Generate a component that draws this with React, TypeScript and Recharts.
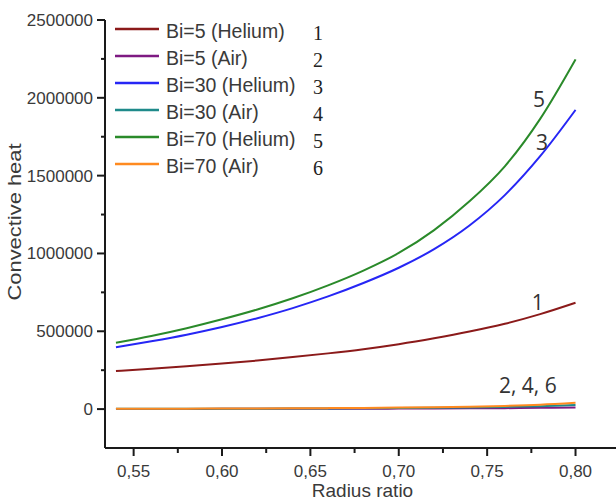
import React from 'react';
import { LineChart, Line, XAxis, YAxis, ReferenceDot, Legend } from 'recharts';

// ---- data ----
const radiusRatio = [0.54, 0.56, 0.58, 0.6, 0.62, 0.64, 0.66, 0.68, 0.7, 0.72, 0.74, 0.76, 0.78, 0.8];
const bi5Helium = [244000, 259000, 276000, 293000, 312000, 334000, 358000, 385000, 417000, 455000, 498000, 548000, 610000, 683000];
const bi5Air = [1000, 1100, 1200, 1400, 1600, 1800, 2100, 2500, 3000, 3700, 4700, 6000, 8000, 11000];
const bi30Helium = [398000, 436000, 478000, 527000, 584000, 649000, 724000, 810000, 908000, 1028000, 1180000, 1375000, 1625000, 1922000];
const bi30Air = [1500, 1700, 2000, 2400, 2900, 3500, 4300, 5300, 6600, 8400, 10800, 14000, 19000, 26000];
const bi70Helium = [426000, 470000, 520000, 577000, 640000, 712000, 795000, 890000, 1003000, 1150000, 1335000, 1560000, 1865000, 2247000];
const bi70Air = [2000, 2400, 2900, 3500, 4200, 5100, 6200, 7600, 9500, 12000, 15500, 20500, 28000, 40000];

const seriesKeys = ['bi5He', 'bi5Air', 'bi30He', 'bi30Air', 'bi70He', 'bi70Air'];
const seriesNames = ['Bi=5 (Helium)', 'Bi=5 (Air)', 'Bi=30 (Helium)', 'Bi=30 (Air)', 'Bi=70 (Helium)', 'Bi=70 (Air)'];
const seriesNumbers = ['1', '2', '3', '4', '5', '6'];
const seriesColors = ['#8B1A1A', '#7E1A82', '#2626F5', '#1F8A8A', '#2A8A2A', '#FF8A20'];

const xMajorTicks = [0.55, 0.6, 0.65, 0.7, 0.75, 0.8];
const xMinorTicks = [0.575, 0.625, 0.675, 0.725, 0.775];
const yMajorTicks = [0, 500000, 1000000, 1500000, 2000000, 2500000];
const yMinorTicks = [250000, 750000, 1250000, 1750000, 2250000];

const annotations = [
  { text: '5', x: 0.7793, y: 1986000 },
  { text: '3', x: 0.781, y: 1716000 },
  { text: '1', x: 0.7787, y: 688000 },
  { text: '2, 4, 6', x: 0.773, y: 154000 },
];

const allSeries = [bi5Helium, bi5Air, bi30Helium, bi30Air, bi70Helium, bi70Air];
const data = radiusRatio.map((r, i) => {
  const row: Record<string, number> = { r };
  seriesKeys.forEach((k, j) => {
    row[k] = allSeries[j][i];
  });
  return row;
});

const SANS = "'Liberation Sans', Arial, sans-serif";
const TEXT = '#3a3a3a';
const AXIS = '#1a1a1a';

const isMajor = (v: number, majors: number[]) => majors.some((m) => Math.abs(m - v) < 1e-9);

const XTick = (props: any) => {
  const { x, y, payload } = props;
  const v = payload.value as number;
  const major = isMajor(v, xMajorTicks);
  return (
    <g>
      <line x1={x} x2={x} y1={y} y2={y + (major ? 8 : 5)} stroke={AXIS} strokeWidth={2} />
      {major && (
        <text x={x} y={y + 29} textAnchor="middle" fontSize={17} fill={TEXT} fontFamily={SANS}>
          {v.toFixed(2).replace('.', ',')}
        </text>
      )}
    </g>
  );
};

const YTick = (props: any) => {
  const { x, y, payload } = props;
  const v = payload.value as number;
  const major = isMajor(v, yMajorTicks);
  return (
    <g>
      <line x1={x} x2={x - (major ? 8 : 4)} y1={y} y2={y} stroke={AXIS} strokeWidth={2} />
      {major && (
        <text x={x - 12} y={y + 6} textAnchor="end" fontSize={17} fill={TEXT} fontFamily={SANS}>
          {String(v)}
        </text>
      )}
    </g>
  );
};

const LegendBox = () => (
  <svg width={340} height={190} style={{ display: 'block' }}>
    {seriesNames.map((name, i) => {
      const ly = 29 + i * 27;
      return (
        <g key={name}>
          <line x1={115} x2={159} y1={ly} y2={ly} stroke={seriesColors[i]} strokeWidth={2.6} />
          <text x={166} y={ly + 9} fontSize={19.5} fill={TEXT} fontFamily={SANS}>
            {name}
          </text>
          <text x={318} y={ly + 11} textAnchor="middle" fontSize={20} fill="#222" fontFamily="'Liberation Serif', 'Times New Roman', serif">
            {seriesNumbers[i]}
          </text>
        </g>
      );
    })}
  </svg>
);

export default function App() {
  return (
    <div style={{ position: 'absolute', left: 0, top: 0, background: '#fff' }}>
      <LineChart width={616} height={501} data={data} margin={{ top: 20, right: 0, bottom: 0, left: 0 }}>
        <XAxis
          dataKey="r"
          type="number"
          domain={[0.5338, 0.8229]}
          allowDataOverflow
          ticks={[...xMajorTicks, ...xMinorTicks]}
          interval={0}
          height={53}
          tickSize={0}
          tickMargin={0}
          tickLine={false}
          axisLine={{ stroke: AXIS, strokeWidth: 2 }}
          tick={<XTick />}
          label={{
            content: (p: any) => {
              const vb = p.viewBox;
              return (
                <text x={vb.x + vb.width / 2 + 2} y={497} textAnchor="middle" fontSize={19} fill={TEXT} fontFamily={SANS}>
                  Radius ratio
                </text>
              );
            },
          }}
        />
        <YAxis
          type="number"
          domain={[-250000, 2500000]}
          allowDataOverflow
          ticks={[...yMajorTicks, ...yMinorTicks]}
          interval={0}
          width={105}
          tickSize={0}
          tickMargin={0}
          tickLine={false}
          axisLine={{ stroke: AXIS, strokeWidth: 2 }}
          tick={<YTick />}
          label={{
            content: (p: any) => {
              const vb = p.viewBox;
              const cy = vb.y + vb.height / 2 - 12;
              return (
                <text
                  x={21}
                  y={cy}
                  transform={`rotate(-90, 21, ${cy})`}
                  textAnchor="middle"
                  fontSize={19}
                  textLength={157}
                  lengthAdjust="spacingAndGlyphs"
                  fill={TEXT}
                  fontFamily={SANS}
                >
                  Convective heat
                </text>
              );
            },
          }}
        />
        <Legend
          layout="vertical"
          align="center"
          verticalAlign="middle"
          wrapperStyle={{ left: 0, top: 0, width: 340, height: 190 }}
          content={() => <LegendBox />}
        />
        {seriesKeys.map((k, i) => (
          <Line
            key={k}
            dataKey={k}
            name={seriesNames[i]}
            type="monotone"
            stroke={seriesColors[i]}
            strokeWidth={2}
            dot={false}
            activeDot={false}
            isAnimationActive={false}
          />
        ))}
        {annotations.map((a) => (
          <ReferenceDot
            key={a.text}
            x={a.x}
            y={a.y}
            r={0}
            fill="none"
            stroke="none"
            label={{
              content: (p: any) => {
                const vb = p.viewBox;
                const cx = vb.x + (vb.width || 0) / 2;
                const cy = vb.y + (vb.height || 0) / 2;
                return (
                  <text x={cx} y={cy + 7.5} textAnchor="middle" fontSize={21} fill="#333" fontFamily="'Open Sans', sans-serif">
                    {a.text}
                  </text>
                );
              },
            }}
          />
        ))}
      </LineChart>
    </div>
  );
}
